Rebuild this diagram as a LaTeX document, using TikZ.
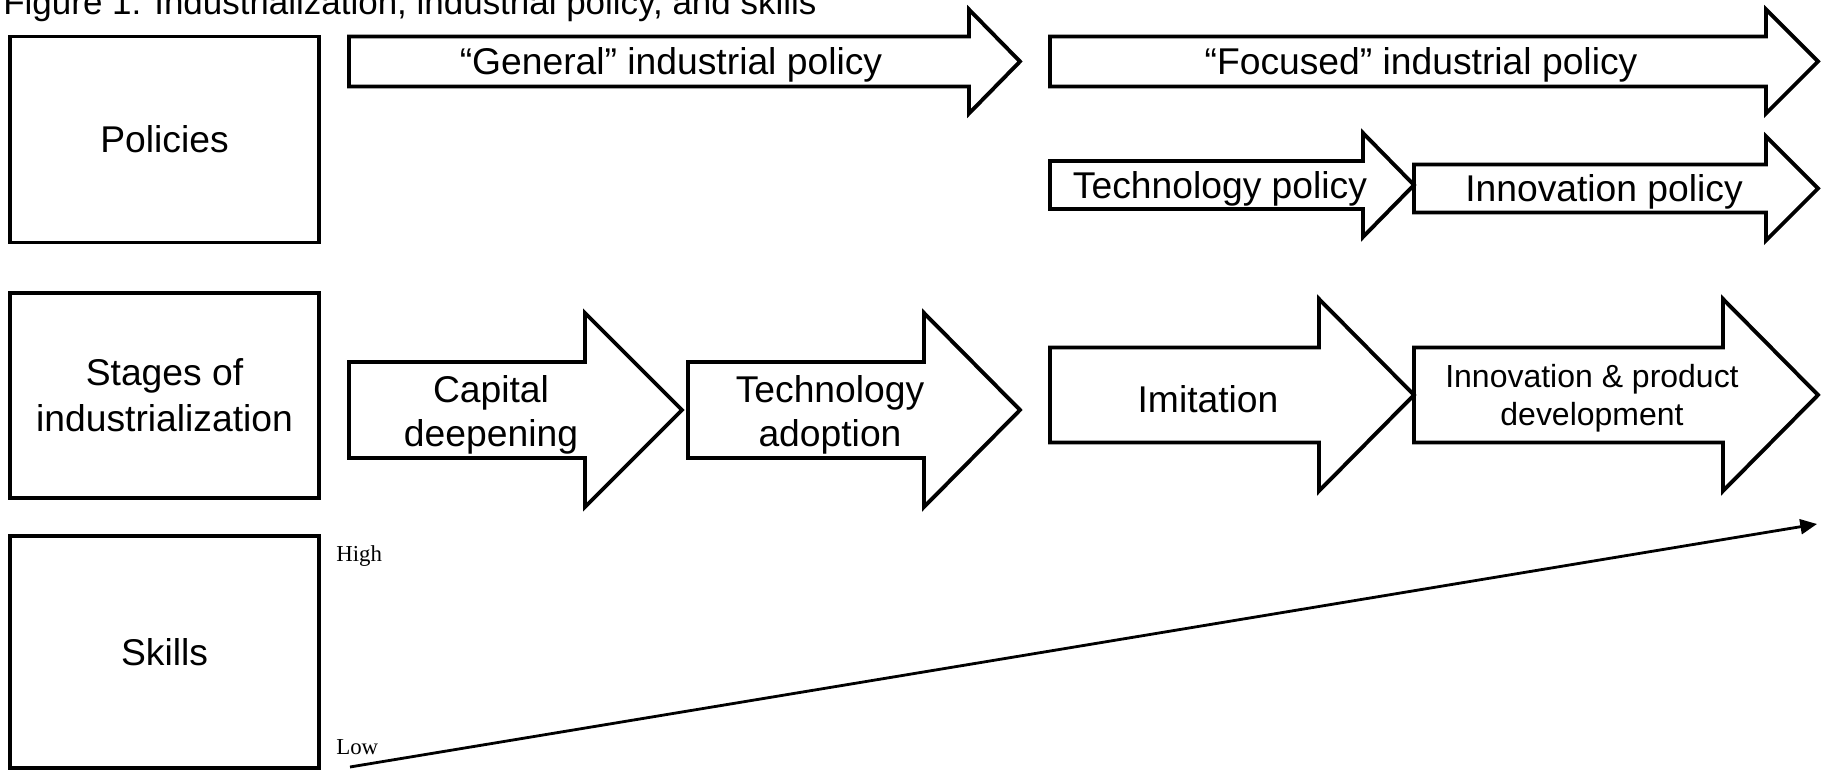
\documentclass[tikz,border=0pt]{standalone}
\usepackage{fontspec}
\setmainfont{Liberation Sans}
\newfontfamily\timesfont{Liberation Serif}
\usetikzlibrary{arrows.meta}

\tikzset{
    box/.style={draw, line width=2.2pt, minimum width=6.18cm, align=center,
        font=\fontsize{21.2}{26}\selectfont},
    blk/.style={draw, line width=2.2pt, line join=miter},
    lbl/.style={align=center, inner sep=0pt, font=\fontsize{21.2}{25}\selectfont},
    axislbl/.style={anchor=base west, inner sep=0pt, font=\timesfont\fontsize{13}{15}\selectfont},
}

\begin{document}
\begin{tikzpicture}[scale=1]
    \useasboundingbox (0,0) rectangle (36.5,15.42);

    \node[anchor=base west, inner sep=0pt, font=\fontsize{19.9}{24}\selectfont] (title) at (0.06,15.13)
        {Figure 1: Industrialization, industrial policy, and skills};

    % row labels
    \node[box, minimum height=4.12cm] (policies) at (3.29,12.63) {Policies};
    \node[box, minimum height=4.10cm] (stages) at (3.29,7.51) {Stages of\\industrialization};
    \node[box, minimum height=4.64cm] (skills) at (3.29,2.38) {Skills};

    % policies
    \draw[blk] (6.98,13.69) -- (19.38,13.69) -- (19.38,13.15) -- (20.40,14.19) -- (19.38,15.23) -- (19.38,14.69) -- (6.98,14.69) -- cycle;
    \node[lbl] (general) at (13.42,14.12) {“General” industrial policy};
    \draw[blk] (21.00,13.69) -- (35.32,13.69) -- (35.32,13.15) -- (36.36,14.19) -- (35.32,15.23) -- (35.32,14.69) -- (21.00,14.69) -- cycle;
    \node[lbl] (focused) at (28.42,14.12) {“Focused” industrial policy};

    \draw[blk] (21.00,11.24) -- (27.26,11.24) -- (27.26,10.68) -- (28.28,11.72) -- (27.26,12.76) -- (27.26,12.20) -- (21.00,12.20) -- cycle;
    \node[lbl] (techpol) at (24.40,11.65) {Technology policy};
    \draw[blk] (28.28,11.17) -- (35.32,11.17) -- (35.32,10.61) -- (36.36,11.65) -- (35.32,12.69) -- (35.32,12.13) -- (28.28,12.13) -- cycle;
    \node[lbl] (innopol) at (32.08,11.58) {Innovation policy};

    % stages
    \draw[blk] (6.98,6.26) -- (11.70,6.26) -- (11.70,5.28) -- (13.64,7.22) -- (11.70,9.16) -- (11.70,8.18) -- (6.98,8.18) -- cycle;
    \node[lbl] (capital) at (9.82,7.13) {Capital\\deepening};
    \draw[blk] (13.76,6.26) -- (18.48,6.26) -- (18.48,5.28) -- (20.40,7.22) -- (18.48,9.16) -- (18.48,8.18) -- (13.76,8.18) -- cycle;
    \node[lbl] (adoption) at (16.60,7.13) {Technology\\adoption};

    \draw[blk] (21.00,6.57) -- (26.38,6.57) -- (26.38,5.60) -- (28.28,7.52) -- (26.38,9.44) -- (26.38,8.47) -- (21.00,8.47) -- cycle;
    \node[lbl] (imitation) at (24.16,7.44) {Imitation};
    \draw[blk] (28.28,6.57) -- (34.46,6.57) -- (34.46,5.60) -- (36.36,7.52) -- (34.46,9.44) -- (34.46,8.47) -- (28.28,8.47) -- cycle;
    \node[lbl, font=\fontsize{18.2}{21.6}\selectfont] (innovation) at (31.84,7.45) {Innovation \& product\\development};

    % skills
    \node[axislbl] (high) at (6.72,4.18) {High};
    \node[axislbl] (low) at (6.72,0.32) {Low};
    \coordinate (lowend) at (7.00,0.08);
    \coordinate (highend) at (36.34,4.94);
    \draw[line width=1.6pt, -{Triangle[length=9.5pt,width=8.5pt]}] (lowend) -- (highend);
\end{tikzpicture}
\end{document}
